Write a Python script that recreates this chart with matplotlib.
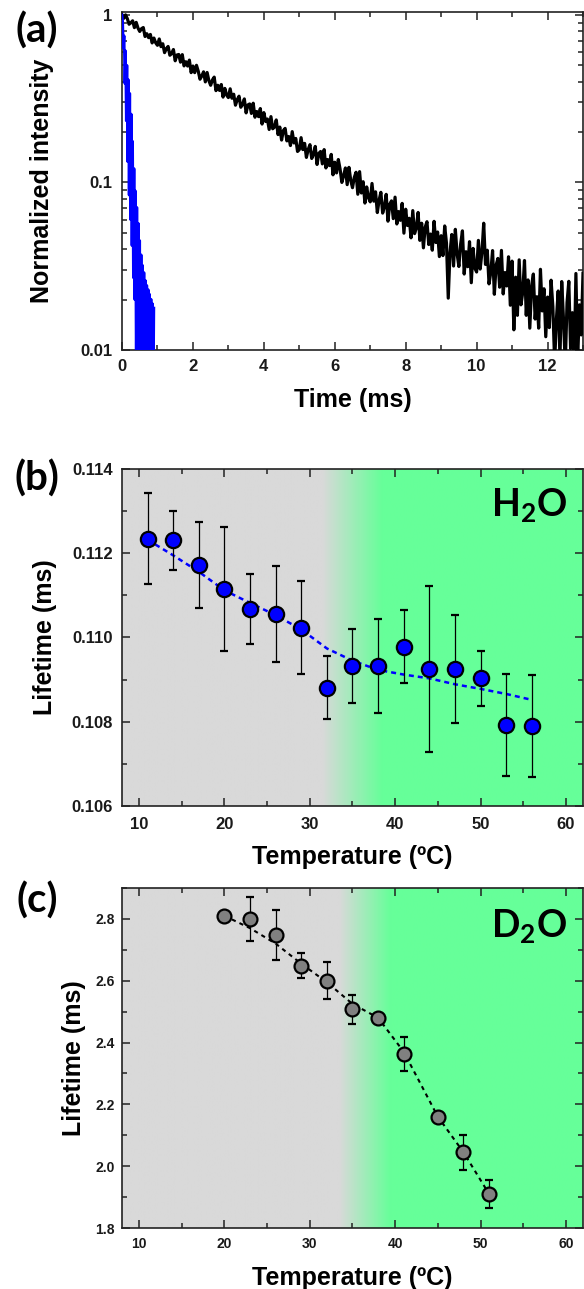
import numpy as np
import matplotlib
matplotlib.use("Agg")
import matplotlib.pyplot as plt
from matplotlib.ticker import MultipleLocator, LogLocator, FixedLocator, FixedFormatter, NullFormatter, FormatStrFormatter
from matplotlib.colors import to_rgb

# ---- (a) decay curves ----
time_d2o = np.round(np.arange(0, 13.001, 0.05), 2)
decay_d2o = [1.00, 0.953, 1.00, 0.949, 0.879, 0.897, 0.922, 0.839, 0.902, 0.835,
             0.796, 0.827, 0.840, 0.743, 0.772, 0.731, 0.764, 0.680, 0.727, 0.681,
             0.658, 0.718, 0.646, 0.672, 0.595, 0.628, 0.648, 0.574, 0.587, 0.621,
             0.532, 0.576, 0.580, 0.522, 0.579, 0.496, 0.525, 0.495, 0.537, 0.452,
             0.495, 0.452, 0.500, 0.461, 0.413, 0.432, 0.457, 0.398, 0.453, 0.405,
             0.380, 0.409, 0.425, 0.353, 0.380, 0.354, 0.384, 0.323, 0.364, 0.332,
             0.321, 0.362, 0.318, 0.336, 0.289, 0.312, 0.327, 0.281, 0.292, 0.315,
             0.260, 0.290, 0.294, 0.258, 0.297, 0.245, 0.265, 0.247, 0.276, 0.223,
             0.261, 0.231, 0.239, 0.207, 0.247, 0.209, 0.214, 0.236, 0.193, 0.214,
             0.179, 0.204, 0.210, 0.177, 0.188, 0.166, 0.201, 0.172, 0.183, 0.153,
             0.157, 0.185, 0.157, 0.171, 0.141, 0.157, 0.168, 0.139, 0.147, 0.164,
             0.128, 0.149, 0.153, 0.129, 0.157, 0.122, 0.137, 0.126, 0.147, 0.111,
             0.132, 0.114, 0.137, 0.120, 0.100, 0.110, 0.122, 0.097, 0.123, 0.103,
             0.093, 0.107, 0.115, 0.085, 0.116, 0.0865, 0.101, 0.0753, 0.094, 0.081,
             0.0766, 0.0986, 0.0773, 0.0879, 0.0661, 0.0783, 0.0873, 0.0656, 0.0716, 0.0849,
             0.0587, 0.0741, 0.0776, 0.0608, 0.0817, 0.0565, 0.0670, 0.0594, 0.0750, 0.0498,
             0.0692, 0.0553, 0.0611, 0.0467, 0.0679, 0.0495, 0.0535, 0.0662, 0.0451, 0.0571,
             0.0407, 0.0541, 0.0583, 0.0426, 0.0492, 0.0394, 0.0586, 0.0438, 0.0506, 0.0361,
             0.0481, 0.0366, 0.0550, 0.0434, 0.0204, 0.0383, 0.0489, 0.0317, 0.0525, 0.0375,
             0.0315, 0.0429, 0.0514, 0.0284, 0.0386, 0.0314, 0.0443, 0.0252, 0.0404, 0.0308,
             0.0292, 0.0451, 0.0304, 0.0383, 0.0571, 0.0324, 0.0394, 0.0248, 0.0291, 0.0392,
             0.0215, 0.0321, 0.0352, 0.0237, 0.0393, 0.0216, 0.0290, 0.0241, 0.0360, 0.0185,
             0.0339, 0.0132, 0.0272, 0.0161, 0.0345, 0.0186, 0.0220, 0.0342, 0.0161, 0.0262,
             0.0135, 0.0241, 0.0284, 0.0153, 0.0208, 0.0135, 0.0303, 0.0171, 0.0232, 0.0120,
             0.0207, 0.0136, 0.0261, 0.0181, 0.0084, 0.0152, 0.0225, 0.0089, 0.0256, 0.0152,
             0.0082, 0.0192, 0.0257, 0.0102, 0.0167, 0.0081, 0.0286, 0.0088, 0.0186, 0.0123,
             0.0287]

time_h2o = np.round(np.arange(0, 0.91, 0.02), 2)
decay_h2o = [1.0, 0.91, 0.63, 0.75, 0.39, 0.61, 0.233, 0.50, 0.133, 0.41,
             0.084, 0.34, 0.060, 0.256, 0.042, 0.176, 0.027, 0.121, 0.020, 0.089,
             0.008, 0.071, 0.006, 0.057, 0.006, 0.045, 0.005, 0.037, 0.005, 0.032,
             0.005, 0.029, 0.005, 0.026, 0.005, 0.0243, 0.005, 0.0229, 0.005, 0.0215,
             0.005, 0.0201, 0.005, 0.0189, 0.005, 0.0178]

# ---- (b) H2O lifetime ----
h2o_temp = [11, 14, 17, 20, 23, 26, 29, 32, 35, 38, 41, 44, 47, 50, 53, 56]
h2o_tau = [0.11235, 0.11231, 0.11173, 0.11115, 0.11067, 0.11055, 0.11023, 0.10881,
           0.10933, 0.10932, 0.10978, 0.10926, 0.10925, 0.10903, 0.10792, 0.10791]
h2o_err = [0.00107, 0.00070, 0.00102, 0.00148, 0.00083, 0.00114, 0.00110, 0.00075,
           0.00088, 0.00112, 0.00087, 0.00197, 0.00128, 0.00065, 0.00121, 0.00121]
h2o_fit = [0.11232, 0.11195, 0.11156, 0.11112, 0.11082, 0.11053, 0.11019, 0.10974,
           0.10945, 0.10923, 0.10912, 0.10903, 0.10889, 0.10878, 0.10866, 0.10852]

# ---- (c) D2O lifetime ----
d2o_temp = [20, 23, 26, 29, 32, 35, 38, 41, 45, 48, 51]
d2o_tau = [2.81, 2.80, 2.748, 2.649, 2.60, 2.508, 2.479, 2.363, 2.159, 2.045, 1.91]
d2o_err = [0.01, 0.072, 0.08, 0.04, 0.06, 0.047, 0.01, 0.055, 0.01, 0.057, 0.046]
d2o_fit = [2.81, 2.77, 2.72, 2.655, 2.595, 2.525, 2.48, 2.37, 2.16, 2.045, 1.91]

gray_bg = "#d9d9d9"
green_bg = "#66ff99"

plt.rcParams["font.family"] = ["Liberation Sans", "DejaVu Sans"]
plt.rcParams["font.weight"] = "bold"
plt.rcParams["axes.labelweight"] = "bold"
plt.rcParams["mathtext.fontset"] = "custom"
plt.rcParams["mathtext.rm"] = "Lato:bold"
plt.rcParams["mathtext.it"] = "Lato:bold"
plt.rcParams["mathtext.bf"] = "Lato:bold"

fig = plt.figure(figsize=(5.84, 12.89), dpi=100)
W, H = 584.0, 1289.0


def make_axes(left, top, right, bottom):
    return fig.add_axes([left / W, 1 - bottom / H, (right - left) / W, (bottom - top) / H])


def style_axes(ax, size, pad_x, pad_y):
    for s in ax.spines.values():
        s.set_linewidth(1.2)
        s.set_color("#222222")
    ax.tick_params(which="both", direction="in", top=True, right=True,
                   width=1.1, colors="#222222", labelcolor="#1a1a1a", labelsize=size)
    ax.tick_params(which="major", length=6)
    ax.tick_params(which="minor", length=3.5)
    ax.tick_params(axis="x", pad=pad_x)
    ax.tick_params(axis="y", pad=pad_y)


def gradient_bg(ax, x0, x1, ylim, g_start, g_end):
    xs = np.linspace(x0, x1, 600)
    frac = np.clip((xs - g_start) / (g_end - g_start), 0, 1)
    c0 = np.array(to_rgb(gray_bg))
    c1 = np.array(to_rgb(green_bg))
    img = c0[None, :] * (1 - frac[:, None]) + c1[None, :] * frac[:, None]
    ax.imshow(img[None, :, :], extent=[x0, x1, ylim[0], ylim[1]], aspect="auto",
              origin="lower", zorder=0, interpolation="bilinear")


# ---------------- (a) ----------------
ax1 = make_axes(122, 12, 583, 350)
ax1.plot(time_d2o, decay_d2o, color="black", lw=2.3, zorder=3)
ax1.plot(time_h2o, decay_h2o, color="#0000ff", lw=1.9, zorder=3)
ax1.set_yscale("log")
ax1.set_xlim(0, 13)
ax1.set_ylim(0.01, 1.04)
ax1.xaxis.set_major_locator(MultipleLocator(2))
ax1.xaxis.set_minor_locator(MultipleLocator(1))
ax1.yaxis.set_major_locator(FixedLocator([0.01, 0.1, 1]))
ax1.yaxis.set_major_formatter(FixedFormatter(["0.01", "0.1", "1"]))
ax1.yaxis.set_minor_locator(LogLocator(base=10, subs=np.arange(2, 10)))
ax1.yaxis.set_minor_formatter(NullFormatter())
style_axes(ax1, 12, 6.5, 7)
ax1.set_xlabel("Time (ms)", fontsize=18)
ax1.set_ylabel("Normalized intensity", fontsize=18)
ax1.xaxis.set_label_coords(0.5, -0.112)
ax1.yaxis.set_label_coords(-0.147, 0.5)

# ---------------- (b) ----------------
ax2 = make_axes(122, 469, 583, 806)
ylim_b = (0.106, 0.114)
gradient_bg(ax2, 8, 62, ylim_b, 31.5, 38.5)
ax2.plot(h2o_temp, h2o_fit, color="#0000ff", lw=1.8, dashes=(2, 1.6), zorder=2)
ax2.errorbar(h2o_temp, h2o_tau, yerr=h2o_err, fmt="o", color="black", ecolor="black",
             elinewidth=0.9, capsize=3, capthick=0.9, markersize=11,
             markerfacecolor="#0000ff", markeredgecolor="black", markeredgewidth=1.6, zorder=3)
ax2.set_xlim(8, 62)
ax2.set_ylim(*ylim_b)
ax2.xaxis.set_major_locator(MultipleLocator(10))
ax2.xaxis.set_minor_locator(MultipleLocator(5))
ax2.yaxis.set_major_locator(MultipleLocator(0.002))
ax2.yaxis.set_minor_locator(MultipleLocator(0.001))
ax2.yaxis.set_major_formatter(FormatStrFormatter("%.3f"))
style_axes(ax2, 12, 8, 6.5)
ax2.set_xlabel("Temperature (ºC)", fontsize=18)
ax2.set_ylabel("Lifetime (ms)", fontsize=18)
ax2.xaxis.set_label_coords(0.5, -0.116)
ax2.yaxis.set_label_coords(-0.142, 0.5)
ax2.text(0.965, 0.861, r"$\mathrm{H_2O}$", transform=ax2.transAxes, ha="right",
         va="baseline", fontsize=27, zorder=5)

# ---------------- (c) ----------------
ax3 = make_axes(122, 888, 583, 1228)
ylim_c = (1.8, 2.9)
gradient_bg(ax3, 8, 62, ylim_c, 33.5, 39.5)
ax3.plot(d2o_temp, d2o_fit, color="black", lw=1.5, dashes=(2, 2), zorder=2)
ax3.errorbar(d2o_temp, d2o_tau, yerr=d2o_err, fmt="o", color="black", ecolor="black",
             elinewidth=0.9, capsize=3, capthick=0.9, markersize=10,
             markerfacecolor="#808080", markeredgecolor="black", markeredgewidth=1.6, zorder=3)
ax3.set_xlim(8, 62)
ax3.set_ylim(*ylim_c)
ax3.xaxis.set_major_locator(MultipleLocator(10))
ax3.xaxis.set_minor_locator(MultipleLocator(5))
ax3.yaxis.set_major_locator(MultipleLocator(0.2))
ax3.yaxis.set_minor_locator(MultipleLocator(0.1))
ax3.yaxis.set_major_formatter(FormatStrFormatter("%.1f"))
style_axes(ax3, 10, 6.5, 5)
ax3.set_xlabel("Temperature (ºC)", fontsize=18)
ax3.set_ylabel("Lifetime (ms)", fontsize=18)
ax3.xaxis.set_label_coords(0.5, -0.112)
ax3.yaxis.set_label_coords(-0.078, 0.5)
ax3.text(0.965, 0.856, r"$\mathrm{D_2O}$", transform=ax3.transAxes, ha="right",
         va="baseline", fontsize=27, zorder=5)

# panel letters
for lab, yc in [("(a)", 31), ("(b)", 479), ("(c)", 901)]:
    fig.text(37 / W, 1 - yc / H, lab, ha="center", va="center", fontsize=29,
             fontweight="bold", family=["Lato", "DejaVu Sans"])

fig.savefig("out.png", dpi=100)
